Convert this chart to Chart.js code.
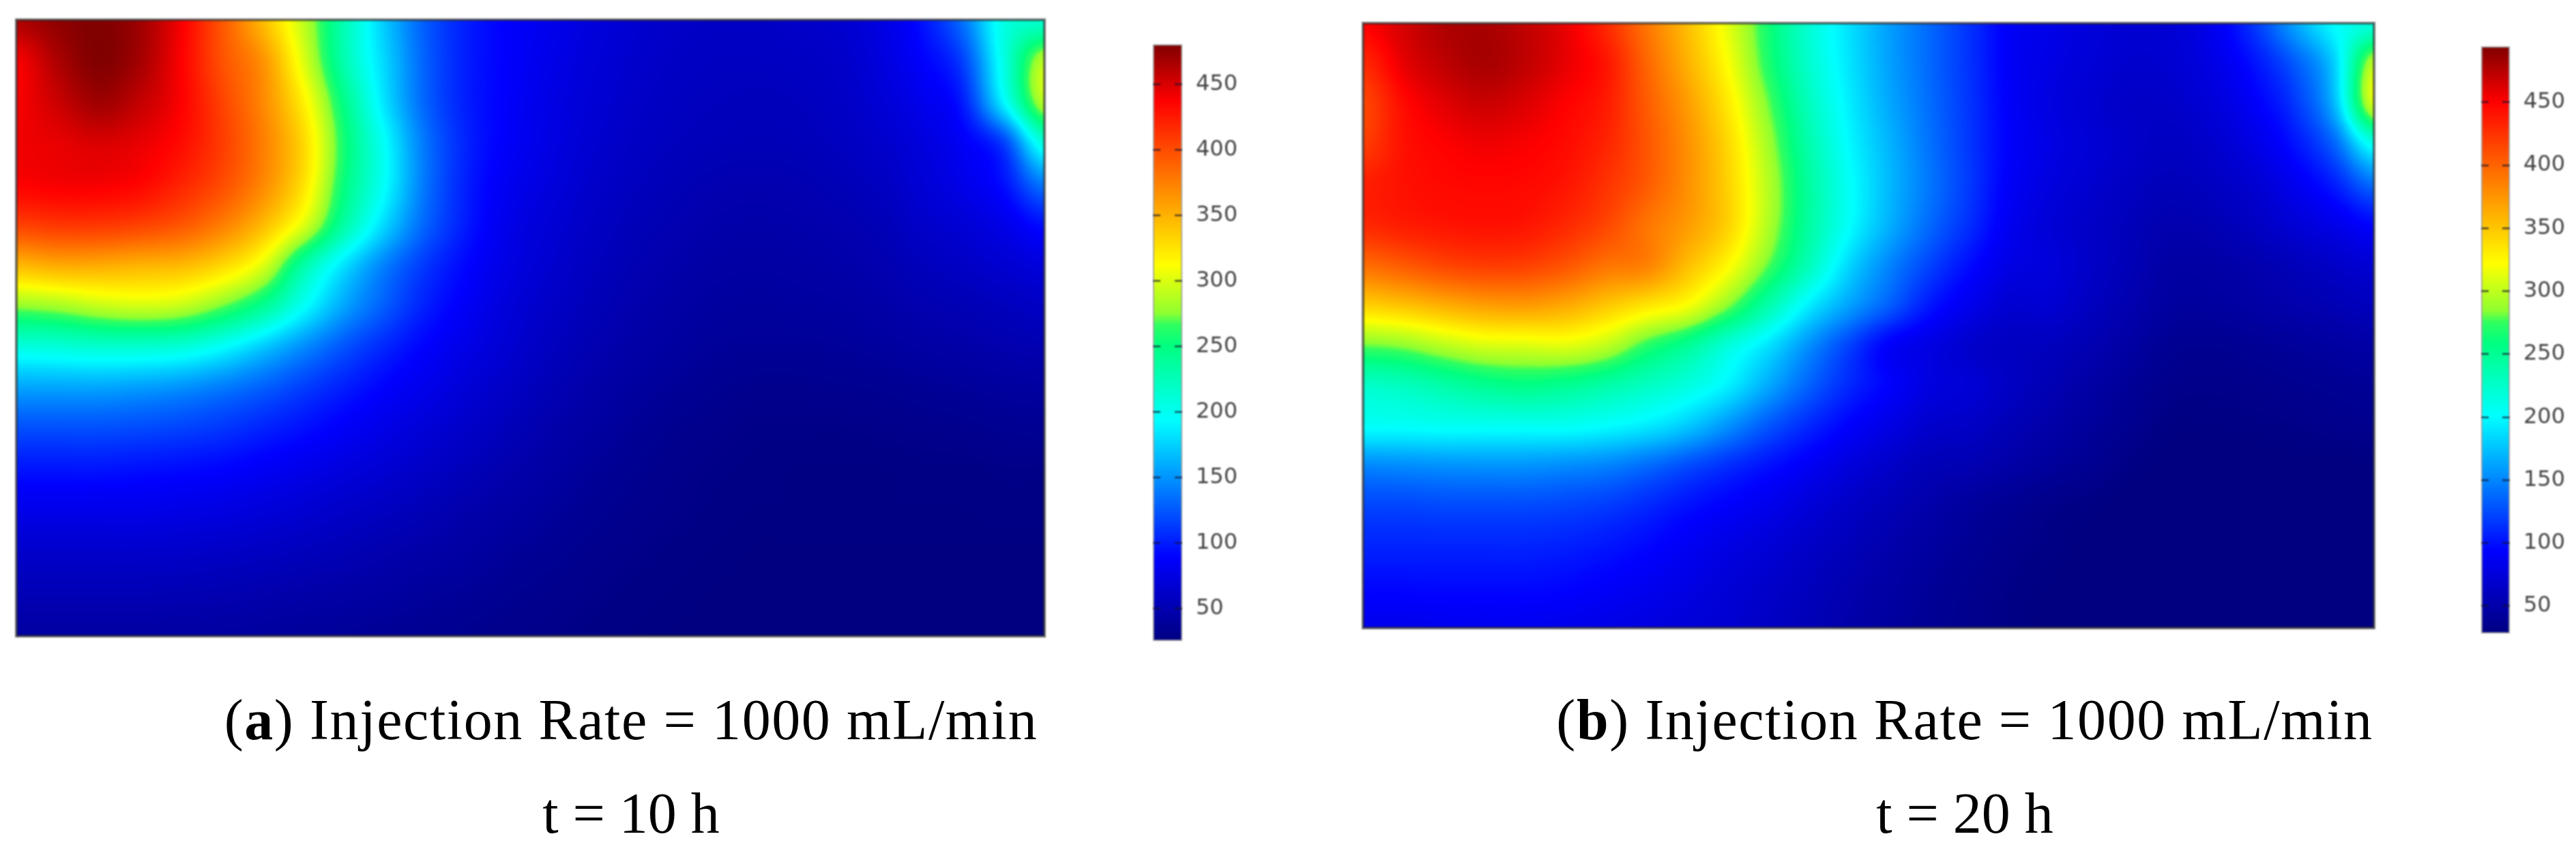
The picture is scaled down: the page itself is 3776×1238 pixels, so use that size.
<!DOCTYPE html>
<html>
<head>
<meta charset="utf-8">
<title>Injection Rate = 1000 mL/min</title>
<script src="https://cdn.jsdelivr.net/npm/chart.js@4"></script>
<style>
  html, body { margin:0; padding:0; background:#fff; }
  #page { position:relative; width:3776px; height:1238px; overflow:hidden; }
  canvas { position:absolute; filter:blur(0.8px); }
  .cap { position:absolute; width:1400px; text-align:center; font:84px/1 "Liberation Serif", serif; color:#000; white-space:nowrap; }
  .wide { letter-spacing:1.6px; }
</style>
</head>
<body>
<div id="page">
  <canvas id="fieldA" width="1517" height="913" style="left:19px;top:24px"></canvas>
  <canvas id="barA" width="140" height="874" style="left:1690px;top:65px"></canvas>
  <canvas id="fieldB" width="1492" height="896" style="left:1993px;top:29px"></canvas>
  <canvas id="barB" width="140" height="860" style="left:3637px;top:68px"></canvas>
  <div class="cap wide" style="left:225px;top:1013px">(<b>a</b>) Injection Rate = 1000 mL/min</div>
  <div class="cap" style="left:225px;top:1150px">t = 10 h</div>
  <div class="cap wide" style="left:2180px;top:1013px">(<b>b</b>) Injection Rate = 1000 mL/min</div>
  <div class="cap" style="left:2180px;top:1150px">t = 20 h</div>
</div>
<script>
// temperature, top row first, left column first
const FIELD_A = [
  [465,475,480,470,440,395,345,290,226,170,125,100,88,80,72,66,62,60,60,62,65,75,95,135,205,215],
  [440,465,480,468,438,398,365,300,228,175,127,100,88,78,70,64,60,58,58,59,62,72,88,115,205,290],
  [440,455,470,458,438,405,370,318,245,180,128,100,87,76,68,62,58,56,55,56,60,68,80,100,190,290],
  [442,445,450,445,432,408,375,330,255,193,135,102,86,75,66,60,56,54,53,54,57,63,72,85,115,210],
  [437,440,440,435,420,400,370,325,250,193,135,100,82,72,63,57,53,50,49,50,53,58,68,78,95,140],
  [405,410,410,405,395,375,345,300,232,175,128,98,78,68,60,54,50,47,46,47,49,53,62,68,78,95],
  [345,352,352,348,345,330,300,232,180,140,110,90,75,65,57,51,47,44,43,44,46,49,55,60,66,72],
  [275,280,290,295,290,270,240,195,155,125,100,84,70,61,54,48,44,41,40,41,42,45,49,52,56,60],
  [205,208,212,212,208,193,170,145,122,103,88,76,66,57,50,45,41,38,37,37,38,40,43,45,48,50],
  [155,155,155,152,147,138,127,113,100,88,78,68,60,52,46,41,37,34,32,32,33,34,36,38,40,41],
  [120,120,120,118,115,110,102,94,85,76,68,61,54,47,42,37,33,31,29,29,29,30,31,32,34,35],
  [96,96,96,94,92,89,84,78,72,66,60,54,48,43,38,34,31,29,28,27,27,27,28,28,29,29],
  [78,78,78,78,76,74,70,66,61,57,52,47,43,39,35,32,30,28,27,27,27,27,27,27,28,28],
  [63,63,63,63,62,60,58,55,52,48,45,42,38,35,32,30,28,27,26,26,26,26,26,26,26,26],
  [52,52,52,52,51,50,48,46,44,42,39,37,34,32,30,28,27,26,26,26,26,26,26,26,26,26],
  [43,43,43,43,43,42,41,39,38,36,35,33,31,30,28,27,26,26,26,26,26,26,26,26,26,26]
];
const FIELD_B = [
  [450,465,478,480,472,458,430,392,355,314,266,221,189,161,138,114,90,82,75,70,72,85,115,160,200,215],
  [430,458,472,480,472,458,440,400,362,322,270,224,191,162,138,114,90,80,73,68,70,80,100,130,180,300],
  [415,445,460,468,462,450,437,405,372,333,282,232,195,165,140,115,91,78,70,65,66,74,90,115,170,310],
  [420,442,450,455,452,445,432,408,378,342,292,240,200,170,142,116,92,80,72,66,62,68,80,100,135,210],
  [435,442,446,447,446,440,425,405,378,345,298,246,205,172,144,117,90,77,69,62,58,62,70,85,105,140],
  [430,436,440,442,440,430,415,392,372,345,296,245,203,168,138,112,86,73,65,58,52,55,62,72,82,95],
  [395,405,415,420,418,408,392,385,355,325,280,233,185,150,122,98,80,75,65,56,47,48,52,58,65,72],
  [345,352,362,370,372,365,350,335,320,285,240,195,162,133,103,84,70,70,61,52,44,44,47,51,55,60],
  [280,285,298,308,310,312,300,272,250,218,190,155,122,92,80,68,62,60,54,46,38,37,39,42,45,48],
  [225,230,240,250,255,250,240,228,215,195,165,135,110,93,78,72,63,55,47,40,34,33,34,36,38,40],
  [203,203,205,205,205,205,200,192,178,155,130,110,93,80,68,64,56,49,42,36,30,30,31,32,34,35],
  [150,152,154,155,155,152,148,138,125,112,100,88,76,66,57,54,48,42,37,31,28,27,27,28,28,29],
  [122,122,124,124,124,122,118,110,100,92,84,74,65,57,50,43,38,33,30,27,27,26,26,26,26,26],
  [108,108,108,108,108,106,102,96,88,80,73,65,58,51,45,39,34,31,28,27,26,26,26,26,26,26],
  [96,96,97,97,97,95,91,86,80,73,67,60,53,47,41,36,32,29,27,26,26,26,26,26,26,26],
  [85,85,86,86,86,85,82,78,74,70,64,57,50,44,39,35,31,28,27,26,26,26,26,26,26,26]
];
const TICKS = [50,100,150,200,250,300,350,400,450];
const RANGE_A = [25.5, 480.7];
const RANGE_B = [28.3, 494.4];
// colour ramp as seen on the colour bars: position 0..1, r, g, b
const RAMP_POS = [0, .14, .37, .495, .53, .55, .63, .905, 1];
const RAMP_RGB = [[0,0,128],[0,0,255],[0,255,255],[0,255,128],[48,255,96],[144,255,48],[255,255,0],[255,0,0],[128,0,0]];

const $ = (id) => document.getElementById(id);
const clamp = (v,a,b) => Math.max(a, Math.min(b, v));

function rampColor(t){
  let i = 0;
  while(i < RAMP_POS.length-2 && t > RAMP_POS[i+1]) i++;
  const f = clamp((t-RAMP_POS[i])/(RAMP_POS[i+1]-RAMP_POS[i]), 0, 1);
  return RAMP_RGB[i].map((c,k)=>Math.round(c + (RAMP_RGB[i+1][k]-c)*f));
}
const LUT = Array.from({length:1025}, (_,i)=>rampColor(i/1024));

function cubic(a,b,c,d,t){
  return b + .5*t*(c-a + t*(2*a-5*b+4*c-d + t*(3*(b-c)+d-a)));
}
function sample(field, u, v){
  const rows = field.length, cols = field[0].length;
  const j = Math.floor(u), i = Math.floor(v), s = u-j, t = v-i;
  const row = (r) => {
    const R = field[clamp(r,0,rows-1)];
    return cubic(R[clamp(j-1,0,cols-1)], R[clamp(j,0,cols-1)], R[clamp(j+1,0,cols-1)], R[clamp(j+2,0,cols-1)], s);
  };
  return cubic(row(i-1), row(i), row(i+1), row(i+2), t);
}

// one image per grid value, shaded in value space, handed to the point as its pointStyle
function makeTile(field, range, col, row, cellW, cellH){
  const w = Math.ceil(cellW)+2, h = Math.ceil(cellH)+2;
  const c = document.createElement('canvas');
  c.width = w; c.height = h;
  const g = c.getContext('2d');
  const img = g.createImageData(w,h);
  for(let y=0;y<h;y++) for(let x=0;x<w;x++){
    const u = col + (x+.5-w/2)/cellW, v = row + (y+.5-h/2)/cellH;
    const val = sample(field, u, v);
    const rgb = LUT[Math.round(clamp((val-range[0])/(range[1]-range[0]),0,1)*1024)];
    const p = (y*w+x)*4;
    img.data[p]=rgb[0]; img.data[p+1]=rgb[1]; img.data[p+2]=rgb[2]; img.data[p+3]=255;
  }
  g.putImageData(img,0,0);
  return c;
}

const frame = {
  id:'frame',
  afterDatasetsDraw(chart){
    const a = chart.chartArea, c = chart.ctx;
    c.save();
    c.strokeStyle = 'rgba(45,45,45,.65)';
    c.lineWidth = 4;
    c.strokeRect(a.left, a.top, a.right-a.left, a.bottom-a.top);
    c.restore();
  }
};

function fieldChart(id, field, range){
  const rows = field.length, cols = field[0].length;
  const pts = [];
  field.forEach((r,i)=>r.forEach((v,j)=>pts.push({x:j,y:i,v})));
  const cv = $(id);
  const cw = cv.width/(cols-1), ch = cv.height/(rows-1);
  return new Chart(cv, {
    type:'scatter',
    data:{datasets:[{
      data:pts,
      pointRadius:1,
      pointStyle:(ctx)=>{ const r = ctx.raw; return r ? makeTile(field, range, r.x, r.y, cw, ch) : 'rect'; }
    }]},
    options:{
      responsive:false, animation:false, devicePixelRatio:1,
      layout:{padding:0},
      plugins:{legend:{display:false}, tooltip:{enabled:false}},
      events:[],
      scales:{
        x:{type:'linear', min:0, max:cols-1, display:false},
        y:{type:'linear', min:0, max:rows-1, reverse:true, display:false}
      }
    },
    plugins:[frame]
  });
}

function barChart(id, range, barW){
  return new Chart($(id), {
    type:'bar',
    data:{labels:['T'], datasets:[{
      data:[range],
      barPercentage:1, categoryPercentage:1,
      borderWidth:2, borderColor:'rgba(40,40,40,.45)', borderSkipped:false,
      backgroundColor:(ctx)=>{
        const {chart} = ctx, y = chart.scales.y;
        if(!y || !chart.chartArea) return '#00f';
        const gr = chart.ctx.createLinearGradient(0, y.getPixelForValue(range[0]), 0, y.getPixelForValue(range[1]));
        RAMP_POS.forEach((p,i)=>gr.addColorStop(p, `rgb(${RAMP_RGB[i].join(',')})`));
        return gr;
      }
    }]},
    options:{
      responsive:false, animation:false, devicePixelRatio:1,
      layout:{padding:0},
      plugins:{legend:{display:false}, tooltip:{enabled:false}},
      events:[],
      scales:{
        x:{display:false},
        y:{
          position:'right', min:range[0], max:range[1],
          afterFit:(s)=>{ s.width = 140-barW; s.paddingTop = 0; s.paddingBottom = 0; },
          afterBuildTicks:(s)=>{ s.ticks = TICKS.map(value=>({value})); },
          grid:{drawTicks:false, color:'rgba(20,20,50,.6)', lineWidth:3, z:1},
          border:{display:false, dash:[11,barW-22,11,0]},
          ticks:{padding:20, color:'#444', font:{family:'DejaVu Sans', size:32}, autoSkip:false, maxRotation:0, callback:(v)=>String(v)}
        }
      }
    }
  });
}

fieldChart('fieldA', FIELD_A, RANGE_A);
fieldChart('fieldB', FIELD_B, RANGE_B);
barChart('barA', RANGE_A, 43);
barChart('barB', RANGE_B, 42);
</script>
</body>
</html>
